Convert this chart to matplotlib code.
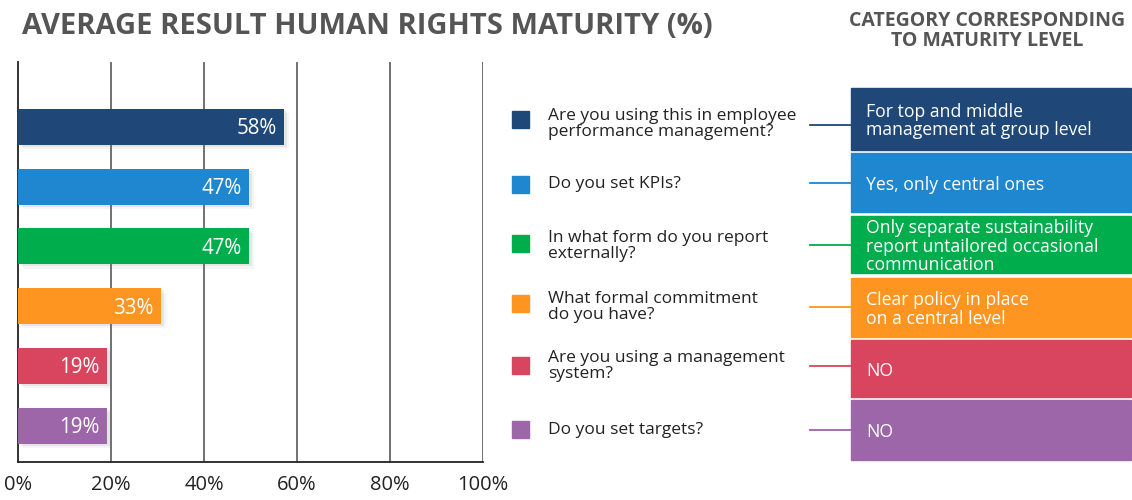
import matplotlib.pyplot as plt
import matplotlib.patheffects as pe
from matplotlib.patches import Rectangle

plt.rcParams['font.family'] = ['Open Sans', 'DejaVu Sans']

# data
questions = ["Are you using this in employee\nperformance management?",
             "Do you set KPIs?",
             "In what form do you report\nexternally?",
             "What formal commitment\ndo you have?",
             "Are you using a management\nsystem?",
             "Do you set targets?"]
labels = [58, 47, 47, 33, 19, 19]
# bar lengths as drawn in the picture (not quite proportional to the labels)
bar_len = [57.2, 49.7, 49.7, 30.8, 19.1, 19.1]
categories = ["For top and middle\nmanagement at group level",
              "Yes, only central ones",
              "Only separate sustainability\nreport untailored occasional\ncommunication",
              "Clear policy in place\non a central level",
              "NO",
              "NO"]
colors = ["#1f4878", "#1f87cf", "#00ad4c", "#fe9520", "#d9455e", "#9d66a9"]
xticks = [0, 20, 40, 60, 80, 100]

W, H = 1132, 500
fig = plt.figure(figsize=(W / 100, H / 100), dpi=100)

# bar chart
ax = fig.add_axes([18 / W, (H - 462) / H, 465 / W, 400 / H])
ypos = list(range(len(bar_len)))
shadow = [pe.SimplePatchShadow(offset=(3.5, -3), alpha=0.07, shadow_rgbFace='#777777'),
          pe.SimplePatchShadow(offset=(2, -1.5), alpha=0.12, shadow_rgbFace='#777777'),
          pe.Normal()]
ax.barh(ypos, bar_len, height=0.6, color=colors, zorder=3, path_effects=shadow)
for y, v, lab in zip(ypos, bar_len, labels):
    ax.text(v - 1.6, y + 0.03, f"{lab}%", color='white', fontsize=14.8, ha='right', va='center', zorder=4)
ax.set_xlim(0, 100)
ax.set_ylim(5.6, -1.08)
ax.set_xticks(xticks)
ax.set_xticklabels([f"{t}%" for t in xticks], fontsize=14.5, color='#222222')
ax.set_yticks([])
ax.tick_params(axis='x', length=0, pad=9)
for t in xticks[1:]:
    ax.axvline(t, color='#666666', lw=1.3, zorder=1)
for s in ['top', 'right']:
    ax.spines[s].set_visible(False)
ax.spines['left'].set_color('#222222')
ax.spines['bottom'].set_color('#222222')
ax.spines['left'].set_linewidth(1.3)
ax.spines['bottom'].set_linewidth(1.3)

# overlay in pixel coords for legend, connectors and category boxes
ov = fig.add_axes([0, 0, 1, 1])
ov.set_xlim(0, W)
ov.set_ylim(H, 0)
ov.axis('off')

ov.text(22, 26, "AVERAGE RESULT HUMAN RIGHTS MATURITY (%)", fontsize=21, fontweight='bold',
        color='#555555', ha='left', va='center')
ov.text(987, 31, "CATEGORY CORRESPONDING\nTO MATURITY LEVEL", fontsize=14, fontweight='bold',
        color='#555555', ha='center', va='center', linespacing=1.0)

sq_y = [119, 184, 243, 303, 365, 429]
txt_y = [124, 184, 246, 307, 366, 430]
line_y = [125, 183, 245, 307, 366, 430]
box_top = [88, 153, 216, 278, 340, 400]
box_bot = [150, 212, 273, 337, 397, 460]

for i, (q, c, cat) in enumerate(zip(questions, colors, categories)):
    ov.add_patch(Rectangle((512, sq_y[i] - 8.5), 17, 17, color=c))
    ov.text(548, txt_y[i], q, fontsize=12.5, color='#222222', ha='left', va='center', linespacing=1.0)
    ov.plot([810, 851], [line_y[i], line_y[i]], color=c, lw=1.3)
    ov.add_patch(Rectangle((851, box_top[i]), 280, box_bot[i] - box_top[i], color=c))
    ov.text(866, (box_top[i] + box_bot[i]) / 2 + 2, cat, fontsize=12.7, color='white',
            ha='left', va='center', linespacing=1.02)

fig.savefig('out.png', dpi=100)
